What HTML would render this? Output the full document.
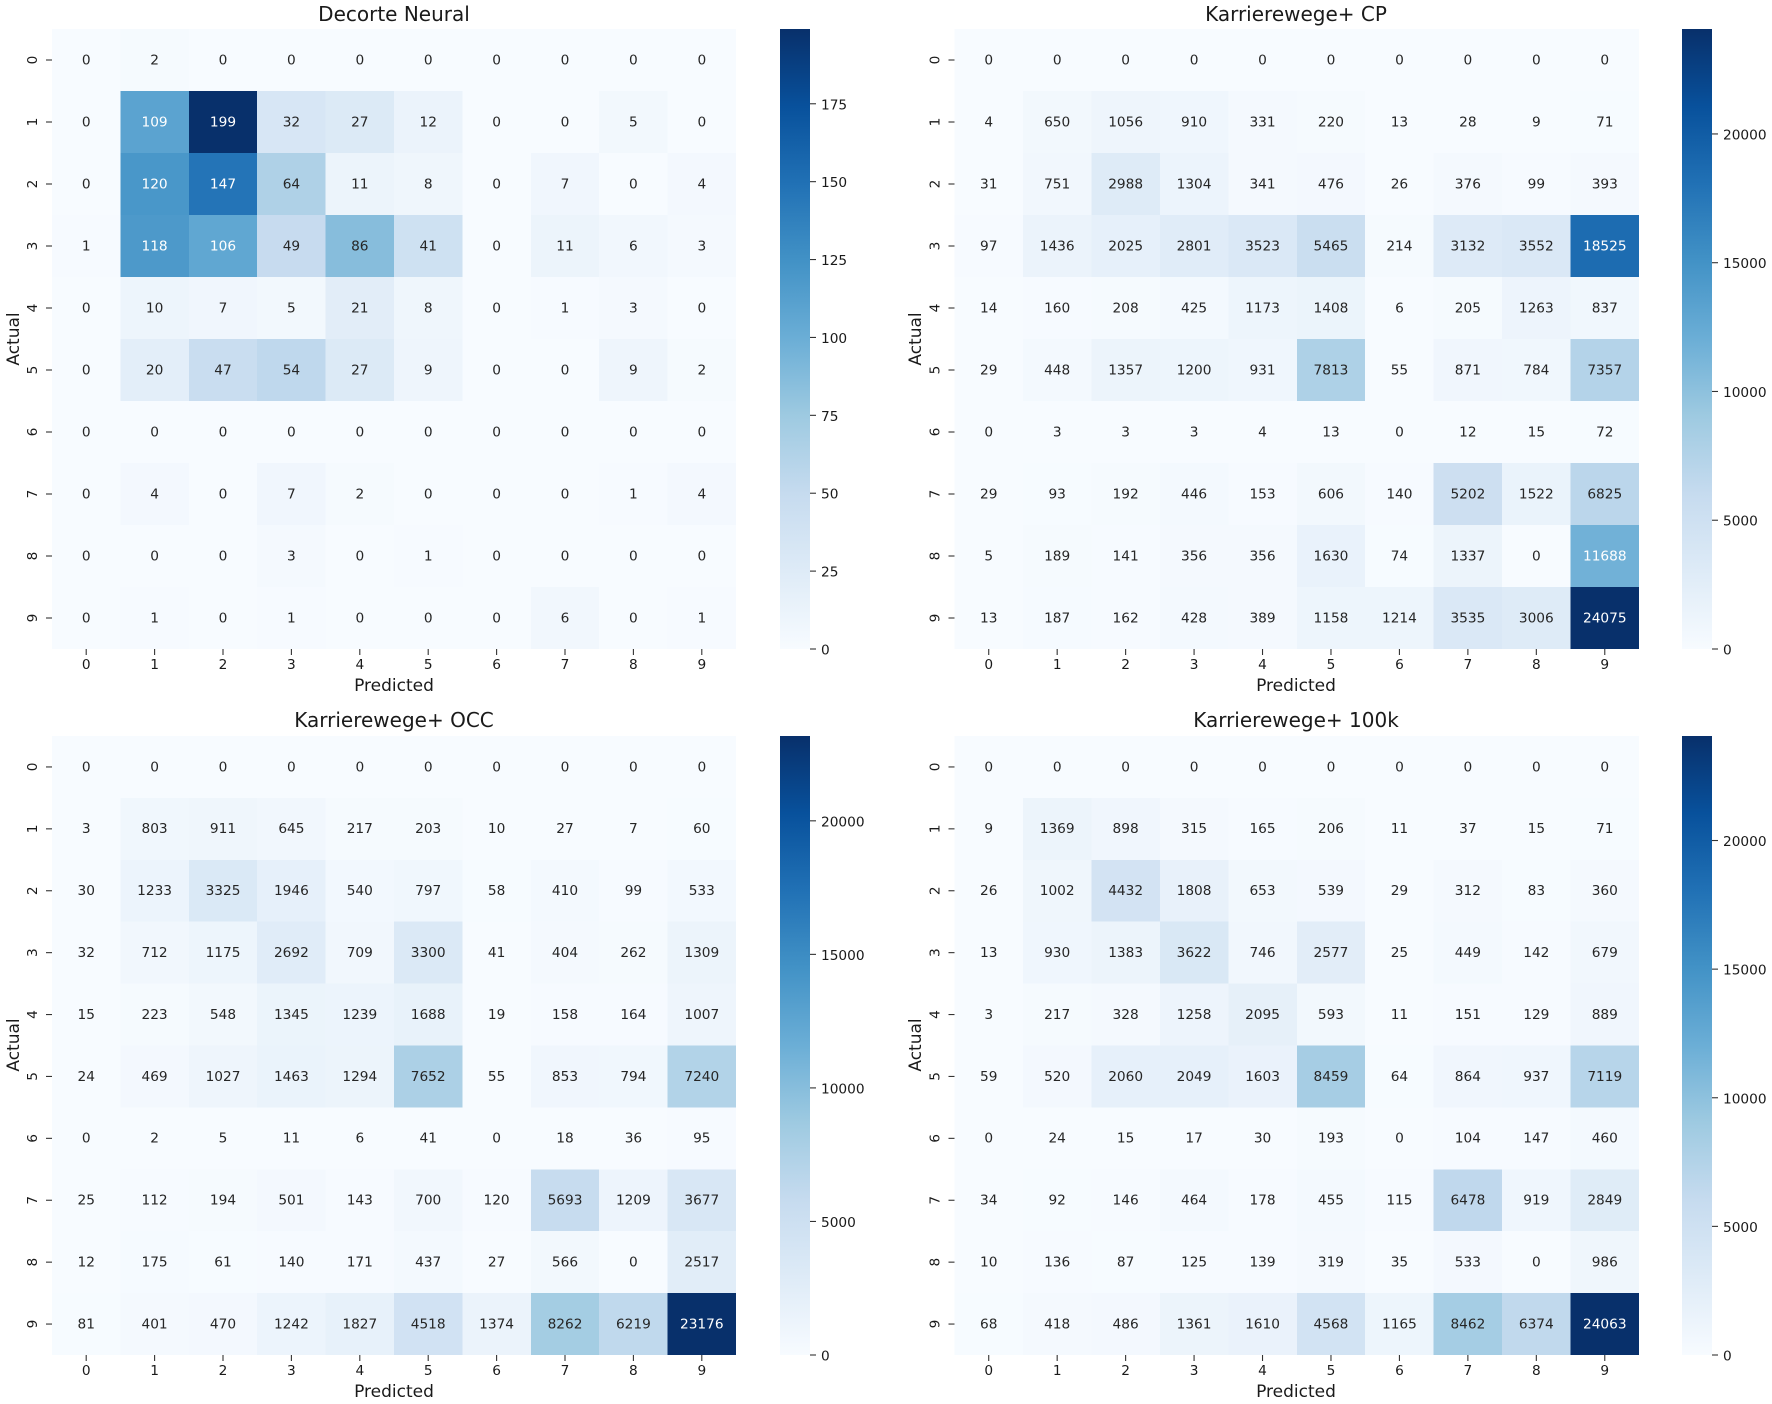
<!DOCTYPE html>
<html lang="en">
<head>
<meta charset="utf-8">
<title>Confusion matrices</title>
<style>
html,body{margin:0;padding:0;background:#fff;width:1772px;height:1404px;overflow:hidden}
svg{display:block;filter:blur(0.35px)}
text{font-family:"DejaVu Sans","Liberation Sans",sans-serif;fill:#1a1a1a}
.title{font-size:20px;text-anchor:middle}
.axis-label{font-size:17px;text-anchor:middle}
</style>
</head>
<body>
<svg id="chart" xmlns="http://www.w3.org/2000/svg" width="1772" height="1404" viewBox="0 0 1772 1404">
  <rect x="0" y="0" width="1772" height="1404" fill="#ffffff"/>
  <defs>
    <linearGradient id="blues-gradient" x1="0" y1="1" x2="0" y2="0"></linearGradient>
  </defs>
  <g id="panel-0">
    <text class="title" x="394" y="21">Decorte Neural</text>
    <text class="axis-label" x="394" y="691">Predicted</text>
    <text class="axis-label" transform="translate(19 339) rotate(-90)">Actual</text>
  </g>
  <g id="panel-1">
    <text class="title" x="1296" y="21">Karrierewege+ CP</text>
    <text class="axis-label" x="1296" y="691">Predicted</text>
    <text class="axis-label" transform="translate(921 339) rotate(-90)">Actual</text>
  </g>
  <g id="panel-2">
    <text class="title" x="394" y="727">Karrierewege+ OCC</text>
    <text class="axis-label" x="394" y="1397">Predicted</text>
    <text class="axis-label" transform="translate(19 1045) rotate(-90)">Actual</text>
  </g>
  <g id="panel-3">
    <text class="title" x="1296" y="727">Karrierewege+ 100k</text>
    <text class="axis-label" x="1296" y="1397">Predicted</text>
    <text class="axis-label" transform="translate(921 1045) rotate(-90)">Actual</text>
  </g>
</svg>
<script>
const categories = [0, 1, 2, 3, 4, 5, 6, 7, 8, 9];

const decorteNeural = [
  [0, 2, 0, 0, 0, 0, 0, 0, 0, 0],
  [0, 109, 199, 32, 27, 12, 0, 0, 5, 0],
  [0, 120, 147, 64, 11, 8, 0, 7, 0, 4],
  [1, 118, 106, 49, 86, 41, 0, 11, 6, 3],
  [0, 10, 7, 5, 21, 8, 0, 1, 3, 0],
  [0, 20, 47, 54, 27, 9, 0, 0, 9, 2],
  [0, 0, 0, 0, 0, 0, 0, 0, 0, 0],
  [0, 4, 0, 7, 2, 0, 0, 0, 1, 4],
  [0, 0, 0, 3, 0, 1, 0, 0, 0, 0],
  [0, 1, 0, 1, 0, 0, 0, 6, 0, 1]
];
const karrierewegeCP = [
  [0, 0, 0, 0, 0, 0, 0, 0, 0, 0],
  [4, 650, 1056, 910, 331, 220, 13, 28, 9, 71],
  [31, 751, 2988, 1304, 341, 476, 26, 376, 99, 393],
  [97, 1436, 2025, 2801, 3523, 5465, 214, 3132, 3552, 18525],
  [14, 160, 208, 425, 1173, 1408, 6, 205, 1263, 837],
  [29, 448, 1357, 1200, 931, 7813, 55, 871, 784, 7357],
  [0, 3, 3, 3, 4, 13, 0, 12, 15, 72],
  [29, 93, 192, 446, 153, 606, 140, 5202, 1522, 6825],
  [5, 189, 141, 356, 356, 1630, 74, 1337, 0, 11688],
  [13, 187, 162, 428, 389, 1158, 1214, 3535, 3006, 24075]
];
const karrierewegeOCC = [
  [0, 0, 0, 0, 0, 0, 0, 0, 0, 0],
  [3, 803, 911, 645, 217, 203, 10, 27, 7, 60],
  [30, 1233, 3325, 1946, 540, 797, 58, 410, 99, 533],
  [32, 712, 1175, 2692, 709, 3300, 41, 404, 262, 1309],
  [15, 223, 548, 1345, 1239, 1688, 19, 158, 164, 1007],
  [24, 469, 1027, 1463, 1294, 7652, 55, 853, 794, 7240],
  [0, 2, 5, 11, 6, 41, 0, 18, 36, 95],
  [25, 112, 194, 501, 143, 700, 120, 5693, 1209, 3677],
  [12, 175, 61, 140, 171, 437, 27, 566, 0, 2517],
  [81, 401, 470, 1242, 1827, 4518, 1374, 8262, 6219, 23176]
];
const karrierewege100k = [
  [0, 0, 0, 0, 0, 0, 0, 0, 0, 0],
  [9, 1369, 898, 315, 165, 206, 11, 37, 15, 71],
  [26, 1002, 4432, 1808, 653, 539, 29, 312, 83, 360],
  [13, 930, 1383, 3622, 746, 2577, 25, 449, 142, 679],
  [3, 217, 328, 1258, 2095, 593, 11, 151, 129, 889],
  [59, 520, 2060, 2049, 1603, 8459, 64, 864, 937, 7119],
  [0, 24, 15, 17, 30, 193, 0, 104, 147, 460],
  [34, 92, 146, 464, 178, 455, 115, 6478, 919, 2849],
  [10, 136, 87, 125, 139, 319, 35, 533, 0, 986],
  [68, 418, 486, 1361, 1610, 4568, 1165, 8462, 6374, 24063]
];
const colorbarTicksDecorte = [0, 25, 50, 75, 100, 125, 150, 175];
const colorbarTicksCP = [0, 5000, 10000, 15000, 20000];
const colorbarTicksOCC = [0, 5000, 10000, 15000, 20000];
const colorbarTicks100k = [0, 5000, 10000, 15000, 20000];

const BLUES = ['#f7fbff', '#deebf7', '#c6dbef', '#9ecae1', '#6baed6', '#4292c6', '#2171b5', '#08519c', '#08306b'];

const panels = [
  { id: 'panel-0', matrix: decorteNeural, ticks: colorbarTicksDecorte, left: 52, top: 29, width: 684, height: 620, cbLeft: 780 },
  { id: 'panel-1', matrix: karrierewegeCP, ticks: colorbarTicksCP, left: 954.5, top: 29, width: 684.5, height: 620, cbLeft: 1682 },
  { id: 'panel-2', matrix: karrierewegeOCC, ticks: colorbarTicksOCC, left: 52, top: 736, width: 684, height: 619, cbLeft: 780 },
  { id: 'panel-3', matrix: karrierewege100k, ticks: colorbarTicks100k, left: 954.5, top: 736, width: 684.5, height: 619, cbLeft: 1682 }
];

const NS = 'http://www.w3.org/2000/svg';
function make(tag, attrs, parent) {
  const el = document.createElementNS(NS, tag);
  for (const k in attrs) el.setAttribute(k, attrs[k]);
  parent.appendChild(el);
  return el;
}
function hexToRgb(h) {
  return [parseInt(h.slice(1, 3), 16), parseInt(h.slice(3, 5), 16), parseInt(h.slice(5, 7), 16)];
}
function bluesRgb(t) {
  const p = Math.max(0, Math.min(1, t)) * (BLUES.length - 1);
  const i = Math.min(Math.floor(p), BLUES.length - 2);
  const a = hexToRgb(BLUES[i]), b = hexToRgb(BLUES[i + 1]), f = p - i;
  return [0, 1, 2].map(function (c) { return Math.round(a[c] + (b[c] - a[c]) * f); });
}
function luminance(rgb) {
  const l = rgb.map(function (v) {
    const s = v / 255;
    return s <= 0.03928 ? s / 12.92 : Math.pow((s + 0.055) / 1.055, 2.4);
  });
  return 0.2126 * l[0] + 0.7152 * l[1] + 0.0722 * l[2];
}

const stops = document.getElementById('blues-gradient');
BLUES.forEach(function (c, i) {
  make('stop', { offset: i / (BLUES.length - 1), 'stop-color': c }, stops);
});

panels.forEach(function (panel) {
  const g = document.getElementById(panel.id);
  const flat = panel.matrix.reduce(function (a, r) { return a.concat(r); }, []);
  const vmax = Math.max.apply(null, flat);
  const cellW = panel.width / categories.length;
  const cellH = panel.height / categories.length;
  const bottom = panel.top + panel.height;
  const xScale = function (i) { return panel.left + i * cellW; };
  const yScale = function (i) { return panel.top + i * cellH; };
  const colorbarScale = function (v) { return bottom - (v / vmax) * panel.height; };

  panel.matrix.forEach(function (row, r) {
    row.forEach(function (value, c) {
      const rgb = bluesRgb(value / vmax);
      const cell = make('rect', {
        x: xScale(c), y: yScale(r), width: cellW, height: cellH,
        fill: 'rgb(' + rgb.join(',') + ')', 'shape-rendering': 'crispEdges'
      }, g);
      
      
      const label = make('text', {
        x: xScale(c) + cellW / 2, y: yScale(r) + cellH / 2 + 4.3,
        'text-anchor': 'middle', 'font-size': '13.7px'
      }, g);
      
      
      label.style.fill = luminance(rgb) > 0.408 ? '#262626' : '#ffffff';
      label.textContent = value;
    });
  });

  categories.forEach(function (cat, i) {
    const cx = xScale(i) + cellW / 2;
    const cy = yScale(i) + cellH / 2;
    const xTick = make('line', { x1: cx, x2: cx, y1: bottom, y2: bottom + 6, stroke: '#333', 'stroke-width': 1.1 }, g);
    
    
    const xLabel = make('text', { x: cx, y: bottom + 20, 'text-anchor': 'middle', 'font-size': '13.7px' }, g);
    
    
    xLabel.textContent = cat;
    const yTick = make('line', { x1: panel.left - 6, x2: panel.left, y1: cy, y2: cy, stroke: '#333', 'stroke-width': 1.1 }, g);
    
    
    const yLabel = make('text', {
      transform: 'translate(' + (panel.left - 15) + ' ' + cy + ') rotate(-90)',
      'text-anchor': 'middle', 'font-size': '13.7px'
    }, g);
    
    
    yLabel.textContent = cat;
  });

  const cbar = make('rect', { x: panel.cbLeft, y: panel.top, width: 30, height: panel.height, fill: 'url(#blues-gradient)' }, g);
  
  
  panel.ticks.forEach(function (t) {
    const y = colorbarScale(t);
    const tick = make('line', { x1: panel.cbLeft + 30, x2: panel.cbLeft + 36, y1: y, y2: y, stroke: '#333', 'stroke-width': 1.1 }, g);
    
    
    const lab = make('text', { x: panel.cbLeft + 41, y: y + 5.5, 'font-size': '13.7px' }, g);
    
    
    lab.textContent = t;
  });
});
</script>
</body>
</html>
